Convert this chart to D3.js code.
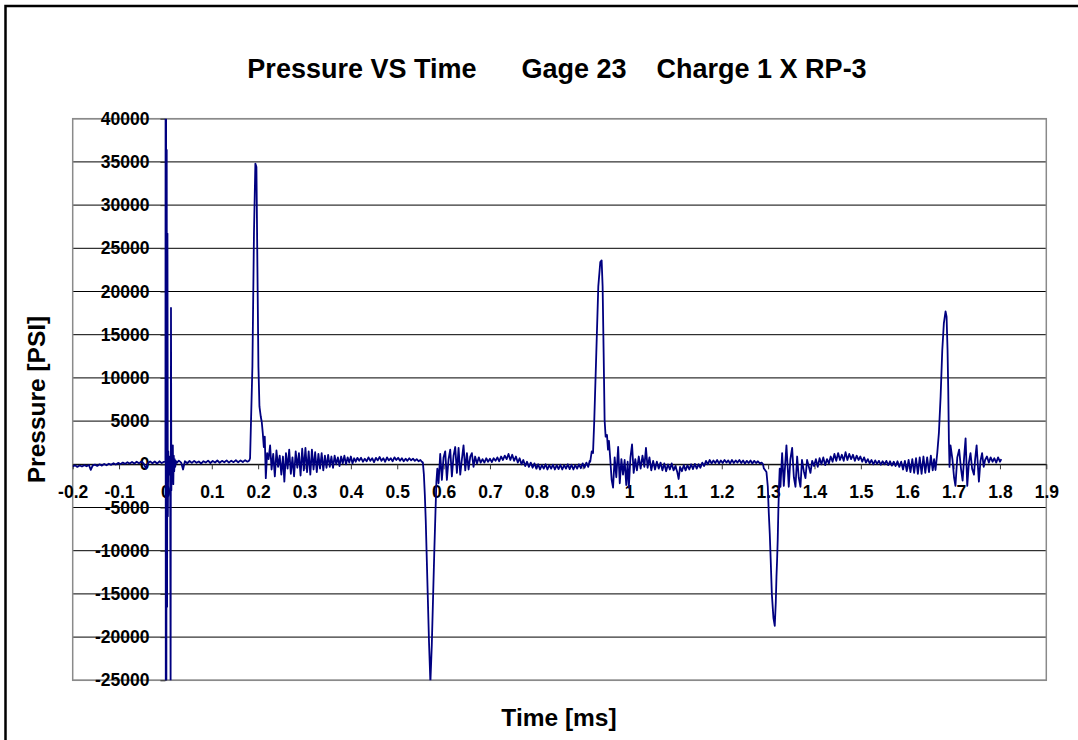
<!DOCTYPE html>
<html>
<head>
<meta charset="utf-8">
<script src="https://cdn.jsdelivr.net/npm/d3@7"></script>
<style>
  html, body { margin: 0; padding: 0; background: #fff; }
  svg text { font-family: "Liberation Sans", Arial, sans-serif; font-weight: bold; fill: #000; }
</style>
</head>
<body>
<div id="chart"></div>
<script>
// pressure trace, [time ms, pressure psi]
const preTrigger = [
  [-0.200,-250],[-0.195,-120],[-0.190,-300],[-0.185,-140],[-0.180,-260],[-0.175,-100],[-0.170,-230],
  [-0.165,-80],[-0.161,-650],[-0.157,-150],[-0.152,-40],[-0.147,-190],[-0.142,0],[-0.137,-150],
  [-0.132,40],[-0.127,-110],[-0.122,70],[-0.117,-60],[-0.112,120],[-0.107,-20],[-0.102,160],
  [-0.097,20],[-0.092,200],[-0.087,50],[-0.082,240],[-0.077,80],[-0.072,270],[-0.067,90],
  [-0.062,300],[-0.057,110],[-0.052,320],[-0.047,100],[-0.042,-500],[-0.038,130],[-0.033,340],
  [-0.028,120],[-0.023,320],[-0.018,90],[-0.013,350],[-0.008,140],[-0.004,280]
];
const detonation = [
  [0.0000,300],[0.0004,52000],[0.0008,-38000],[0.0014,45000],[0.0020,-30000],[0.0028,36400],
  [0.0036,-16500],[0.0044,26700],[0.0052,-6000],[0.0062,1500],[0.0072,-1200],[0.0082,900],
  [0.0092,-800],[0.0102,600],[0.0112,-27000],[0.0120,18100],[0.0128,-3000],[0.0138,1200],
  [0.0150,-1500],[0.0160,2200],[0.0170,-2300],[0.0180,1000],[0.0190,-800],[0.0200,600],
  [0.0212,-300],[0.0224,400]
];
const baseline1 = [
  [0.024,150],[0.029,420],[0.034,200],[0.038,-600],[0.042,350],[0.047,120],[0.052,380],[0.057,160],
  [0.062,400],[0.067,180],[0.072,330],[0.077,90],[0.082,360],[0.087,200],[0.092,420],[0.097,150],
  [0.102,380],[0.107,210],[0.112,440],[0.117,180],[0.122,400],[0.127,230],[0.132,450],[0.137,200],
  [0.142,420],[0.147,250],[0.152,470],[0.157,230],[0.162,450],[0.167,260],[0.172,480],[0.177,300],
  [0.181,450]
];
const pulse1 = [
  [0.1826,700],[0.1876,11300],[0.1910,26800],[0.1940,34800],[0.1963,34400],[0.1984,22900],
  [0.2006,11300],[0.2028,6700],[0.2057,5500],[0.2078,4900],[0.2100,3600],[0.2122,2000],
  [0.2143,3200],[0.2165,-1600],[0.2194,1300]
];
const ringing1 = [
  [0.2225,600],[0.2258,2200],[0.2290,-600],[0.2325,1200],[0.2360,-1400],[0.2395,1600],[0.2430,-300],
  [0.2465,1000],[0.2500,-1200],[0.2535,900],[0.2565,-2000],[0.2600,1300],[0.2635,-500],[0.2670,1700],
  [0.2705,-1100],[0.2740,800],[0.2775,-1400],[0.2810,1500],[0.2845,-400],[0.2880,1300],[0.2915,-1300],
  [0.2950,1800],[0.2985,-700],[0.3020,1900],[0.3055,-900],[0.3090,1500],[0.3125,-1200],[0.3160,1700],
  [0.3195,-600],[0.3230,1400],[0.3265,-900],[0.3300,1200],[0.3335,-500],[0.3370,1300],[0.3405,-700],
  [0.3440,1000],[0.3475,-400],[0.3510,1100],[0.3545,-300],[0.3580,900],[0.3615,-400],[0.3650,1000],
  [0.3685,0],[0.3720,800],[0.3755,-200],[0.3790,900],[0.3825,100],[0.3860,1000],[0.3895,0],
  [0.3930,800],[0.3965,200],[0.4000,900],[0.4035,100],[0.4070,700],[0.4105,300],[0.4140,750],
  [0.418,400],[0.422,750],[0.426,300],[0.430,650],[0.434,350],[0.438,800],[0.442,400],[0.446,700],
  [0.450,250],[0.454,750],[0.458,450],[0.462,850],[0.466,400],[0.470,700],[0.474,300],[0.478,800],
  [0.482,450],[0.486,700],[0.490,350],[0.494,800],[0.498,500],[0.502,750],[0.506,400],[0.510,700],
  [0.514,350],[0.518,650],[0.522,400],[0.526,700],[0.530,450],[0.534,650],[0.538,400],[0.542,600],
  [0.546,350],[0.550,500],[0.553,300]
];
const dip1 = [
  [0.5553,200],[0.5575,-1200],[0.5595,-3500],[0.5615,-6500],[0.5635,-10500],[0.5660,-15500],
  [0.5685,-20500],[0.5715,-25300],[0.5745,-21000],[0.5775,-15000],[0.5800,-10000],[0.5825,-5500],
  [0.5845,-2000],[0.5865,-500]
];
const ringing2 = [
  [0.5891,-2200],[0.5927,1200],[0.5963,-1800],[0.5999,800],[0.6035,1500],[0.6071,-1800],[0.6107,600],
  [0.6143,1700],[0.6179,-1400],[0.6215,1000],[0.6251,2000],[0.6287,-1000],[0.6323,1900],[0.6359,-1200],
  [0.6395,600],[0.6430,2200],[0.6467,-700],[0.6503,1300],[0.6539,-600],[0.6575,900],[0.6610,1300],
  [0.6646,-300],[0.668,900],[0.672,100],[0.676,800],[0.680,200],[0.684,600],[0.688,200],[0.692,700],
  [0.696,300],[0.700,650],[0.704,250],[0.708,700],[0.712,400],[0.716,800],[0.720,350],[0.724,900],
  [0.728,500],[0.732,1000],[0.736,600],[0.740,1200],[0.744,500],[0.748,1100],[0.752,400],[0.756,900],
  [0.760,200],[0.764,700],[0.768,0],[0.772,500],[0.776,-200],[0.780,300],[0.784,-300],[0.788,200],
  [0.792,-400],[0.796,100],[0.800,-500],[0.804,0],[0.808,-600],[0.812,-100],[0.816,-500],[0.820,0],
  [0.824,-600],[0.828,-100],[0.832,-500],[0.836,-50],[0.840,-600],[0.844,-100],[0.848,-550],[0.852,-50],
  [0.856,-600],[0.860,-100],[0.864,-500],[0.868,0],[0.872,-550],[0.876,-50],[0.880,-600],[0.884,-100],
  [0.888,-500],[0.892,0],[0.896,-450],[0.900,100],[0.904,-400],[0.908,200],[0.912,-300],[0.915,400]
];
const pulse2 = [
  [0.9163,300],[0.9195,1500],[0.9223,1300],[0.9250,5100],[0.9294,12900],[0.9337,20600],[0.9380,23400],
  [0.9409,23600],[0.9430,20600],[0.9452,12900],[0.9473,5100],[0.9495,3200],[0.9524,3400],[0.9546,1700],
  [0.9567,2700],[0.9596,500],[0.9625,-1800]
];
const ringing3 = [
  [0.9655,-2700],[0.9690,800],[0.9725,-1500],[0.9765,2000],[0.9800,-2200],[0.9835,600],[0.9870,-1200],
  [0.9905,500],[0.9940,-2400],[0.9970,300],[0.9995,-2700],[1.0030,800],[1.0065,2300],[1.0100,-1000],
  [1.0135,600],[1.0170,-700],[1.0210,900],[1.0250,-500],[1.0290,1000],[1.0330,-300],[1.0365,1900],
  [1.040,-400],[1.044,800],[1.048,-700],[1.052,400],[1.056,-600],[1.060,300],[1.064,-500],[1.068,200],
  [1.072,-700],[1.076,100],[1.080,-800],[1.084,0],[1.088,-600],[1.092,100],[1.096,-700],[1.100,-200],
  [1.104,-900],[1.107,-1700],[1.110,-300],[1.114,-800],[1.118,-100],[1.122,-700],[1.126,-100],
  [1.130,-600],[1.134,0],[1.138,-550],[1.142,50],[1.146,-500],[1.150,0],[1.154,-400]
];
const calm = [
  [1.158,200],[1.162,-200],[1.166,400],[1.170,0],[1.174,500],[1.178,100],[1.182,450],[1.186,150],
  [1.190,500],[1.194,100],[1.198,450],[1.202,150],[1.206,500],[1.210,200],[1.214,450],[1.218,100],
  [1.222,500],[1.226,150],[1.230,450],[1.234,200],[1.238,500],[1.242,150],[1.246,450],[1.250,100],
  [1.254,400],[1.258,150],[1.262,450],[1.266,100],[1.270,400],[1.274,150],[1.278,350],[1.282,100],
  [1.286,200],[1.289,0]
];
const dip2 = [
  [1.2906,-450],[1.2964,-900],[1.2993,-2600],[1.3014,-5600],[1.3035,-8000],[1.3055,-11000],
  [1.3080,-15000],[1.3115,-17800],[1.3143,-18700],[1.3165,-16000],[1.3180,-13000],[1.3194,-11000],
  [1.3207,-8700],[1.3220,-5500],[1.3235,-2500],[1.3250,-500]
];
const ringing4 = [
  [1.3266,-2600],[1.3302,1300],[1.3338,-2500],[1.3395,2200],[1.3445,-2600],[1.3480,600],[1.3518,1900],
  [1.3555,-1500],[1.3590,-2600],[1.3626,900],[1.3660,-1500],[1.3697,-2600],[1.3730,500],[1.3770,-800],
  [1.3805,-1600],[1.3840,500],[1.3880,-300],[1.3913,-1000],[1.395,400],[1.399,-200],[1.403,600],
  [1.407,-300],[1.411,700],[1.415,0],[1.419,800],[1.423,-100],[1.427,600],[1.431,100],[1.435,900],
  [1.439,300],[1.443,1200],[1.447,400],[1.451,1300],[1.455,500],[1.459,1100],[1.463,400],[1.467,1400],
  [1.471,500],[1.475,1200],[1.479,600],[1.483,1100],[1.487,400],[1.491,1000],[1.495,500],[1.499,900],
  [1.503,300],[1.507,800],[1.511,200],[1.515,600],[1.519,100],[1.523,500],[1.527,0],[1.531,450],
  [1.535,50],[1.539,400],[1.543,-50],[1.547,350],[1.551,0],[1.555,400],[1.559,-100],[1.563,350],
  [1.567,-150],[1.571,300],[1.575,-200],[1.579,350],[1.583,-300],[1.587,300],[1.591,-600],[1.595,400],
  [1.599,-800],[1.603,500],[1.607,-900],[1.611,600],[1.615,-1000],[1.619,700],[1.623,-1100],[1.627,800],
  [1.631,-1100],[1.635,900],[1.639,-1000],[1.643,800],[1.647,-900],[1.651,1000],[1.655,-700],[1.658,600]
];
const pulse3 = [
  [1.6610,-660],[1.6648,1300],[1.6683,3600],[1.6720,7800],[1.6756,13200],[1.6790,16300],[1.6827,17700],
  [1.6849,17100],[1.6870,13200],[1.6885,8600],[1.6899,2800],[1.6913,-300]
];
const ringing5 = [
  [1.6934,2200],[1.6975,600],[1.7010,-1500],[1.7040,-2500],[1.7080,800],[1.7120,1700],[1.7160,-500],
  [1.7195,-1900],[1.7230,1000],[1.7259,3000],[1.7295,-2500],[1.7330,200],[1.7365,1300],[1.7400,-500],
  [1.7440,-1200],[1.7465,600],[1.7497,2200],[1.7546,-2000],[1.7580,400],[1.7615,1300],[1.7650,-300],
  [1.768,500],[1.772,900],[1.776,200],[1.780,800],[1.784,300],[1.788,700],[1.792,200],[1.796,800],
  [1.800,300],[1.803,600]
];

const xTicks = [-0.2,-0.1,0,0.1,0.2,0.3,0.4,0.5,0.6,0.7,0.8,0.9,1,1.1,1.2,1.3,1.4,1.5,1.6,1.7,1.8,1.9];
const yTicks = [-25000,-20000,-15000,-10000,-5000,0,5000,10000,15000,20000,25000,30000,35000,40000];

const trace = [].concat(preTrigger, detonation, baseline1, pulse1, ringing1, dip1, ringing2,
  pulse2, ringing3, calm, dip2, ringing4, pulse3, ringing5);

const width = 1078;
const height = 740;
const plot = { left: 72.7, right: 1046.3, top: 118.7, bottom: 680.3 };

const svg = d3.select("#chart")
  .append("svg")
  .attr("width", width)
  .attr("height", height);

svg.append("rect").attr("width", width).attr("height", height).attr("fill", "#fff");

// chart area frame, only its top and left edges fall inside the window
svg.append("rect")
  .attr("x", 5.5).attr("y", 6)
  .attr("width", width + 20).attr("height", height + 20)
  .attr("fill", "none").attr("stroke", "#000").attr("stroke-width", 2.5);

const x = d3.scaleLinear().domain([-0.2, 1.9]).range([plot.left, plot.right]);
const y = d3.scaleLinear().domain([-25000, 40000]).range([plot.bottom, plot.top]);

// gridlines
svg.append("g")
  .selectAll("line")
  .data(yTicks)
  .enter()
  .append("line")
  .attr("x1", plot.left).attr("x2", plot.right)
  .attr("y1", d => y(d)).attr("y2", d => y(d))
  .attr("stroke", "#000").attr("stroke-width", 1);

svg.append("rect")
  .attr("x", plot.left).attr("y", plot.top)
  .attr("width", plot.right - plot.left).attr("height", plot.bottom - plot.top)
  .attr("fill", "none").attr("stroke", "#8a8a8a").attr("stroke-width", 1.5);

// axes cross at zero
const xAxis = svg.append("g")
  .attr("transform", `translate(0,${y(0)})`)
  .call(d3.axisBottom(x)
    .tickValues(xTicks)
    .tickSize(5)
    .tickSizeOuter(0)
    .tickPadding(16)
    .tickFormat(d => String(Math.round(d * 10) / 10)));

const yAxis = svg.append("g")
  .attr("transform", `translate(${x(0)},0)`)
  .call(d3.axisLeft(y)
    .tickValues(yTicks)
    .tickSize(5)
    .tickSizeOuter(0)
    .tickPadding(11)
    .tickFormat(d => String(d)));

[xAxis, yAxis].forEach(g => {
  g.select(".domain").attr("stroke", "#000").attr("stroke-width", 1);
  g.selectAll(".tick line").attr("stroke", "#333");
  g.selectAll(".tick text")
    .attr("fill", "#000")
    .style("font-family", "'Liberation Sans', Arial, sans-serif")
    .style("font-weight", "bold")
    .style("font-size", "17.5px");
});

// trace
svg.append("clipPath").attr("id", "plotClip")
  .append("rect")
  .attr("x", plot.left).attr("y", plot.top)
  .attr("width", plot.right - plot.left).attr("height", plot.bottom - plot.top);

const line = d3.line()
  .x(d => x(d[0]))
  .y(d => y(d[1]));

svg.append("path")
  .datum(trace)
  .attr("clip-path", "url(#plotClip)")
  .attr("d", line)
  .attr("fill", "none")
  .attr("stroke", "#000080")
  .attr("stroke-width", 1.8)
  .attr("stroke-linejoin", "round");

// titles
svg.append("text")
  .attr("x", 557).attr("y", 78)
  .attr("text-anchor", "middle")
  .style("font-size", "27px")
  .style("white-space", "pre")
  .text("Pressure VS Time      Gage 23    Charge 1 X RP-3");

svg.append("text")
  .attr("x", 559).attr("y", 726)
  .attr("text-anchor", "middle")
  .style("font-size", "24.5px")
  .text("Time [ms]");

svg.append("text")
  .attr("transform", "translate(45,399.5) rotate(-90)")
  .attr("text-anchor", "middle")
  .style("font-size", "24.5px")
  .text("Pressure [PSI]");
</script>
</body>
</html>
